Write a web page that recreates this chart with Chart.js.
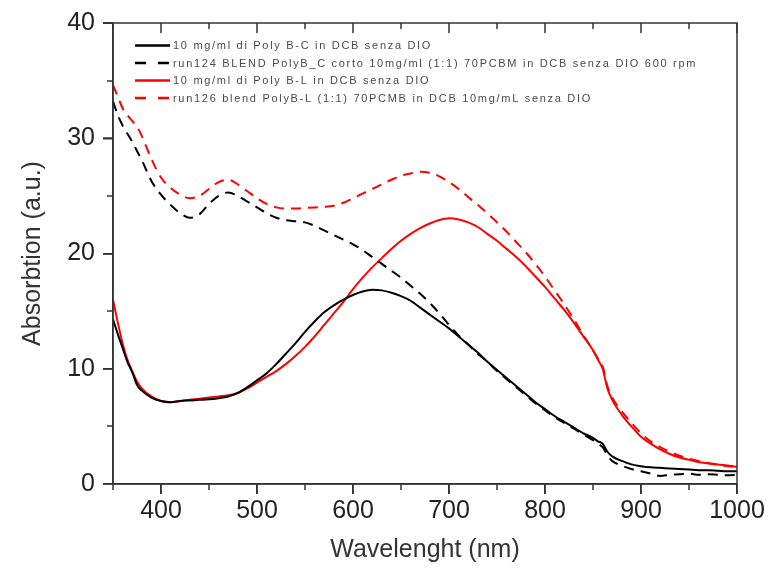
<!DOCTYPE html>
<html>
<head>
<meta charset="utf-8">
<script src="https://cdn.jsdelivr.net/npm/chart.js@4.4.1/dist/chart.umd.min.js"></script>
<style>
  html, body { margin: 0; padding: 0; background: #fff; }
  #c { display: block; }
</style>
</head>
<body>
<canvas id="c" width="769" height="569"></canvas>
<script>
// Wavelength grid (nm)
const wavelength = [350,355,360,365,370,375,380,390,400,410,420,430,440,450,460,470,480,490,500,510,520,530,540,550,560,570,580,590,600,610,620,630,640,650,660,670,680,690,700,710,720,730,740,750,760,770,780,790,800,810,820,830,840,850,855,860,865,870,880,890,900,910,920,930,940,950,960,970,980,990,1000];

// Poly B-C film, 10 mg/ml in DCB without DIO
const polyBC = [14.3,13.0,11.8,10.6,9.7,8.6,8.1,7.5,7.2,7.1,7.2,7.25,7.3,7.35,7.45,7.6,7.9,8.4,9.0,9.6,10.4,11.3,12.2,13.2,14.1,14.9,15.5,16.0,16.4,16.7,16.85,16.8,16.6,16.3,15.9,15.3,14.7,14.1,13.5,12.8,12.1,11.4,10.6,9.9,9.2,8.5,7.8,7.1,6.5,5.9,5.4,4.9,4.4,4.0,3.7,3.5,2.8,2.4,2.0,1.7,1.55,1.45,1.4,1.35,1.3,1.25,1.2,1.2,1.15,1.1,1.1];

// run124: Poly B-C : PCBM blend
const blendBC = [33.2,32.0,31.1,30.4,29.7,28.9,28.1,26.3,25.1,24.2,23.5,23.1,23.4,24.3,25.0,25.3,25.0,24.5,24.0,23.5,23.1,22.9,22.8,22.7,22.4,22.0,21.6,21.2,20.8,20.3,19.7,19.1,18.5,17.9,17.2,16.5,15.7,14.8,13.8,12.9,12.1,11.3,10.6,9.8,9.1,8.4,7.7,7.0,6.4,5.8,5.3,4.8,4.3,3.8,3.5,3.2,2.5,2.0,1.6,1.3,1.1,0.9,0.7,0.8,0.85,0.9,0.8,0.85,0.8,0.75,0.8];

// Poly B-L film, 10 mg/ml in DCB without DIO
const polyBL = [16.0,14.0,12.2,10.8,9.8,8.9,8.3,7.6,7.2,7.1,7.2,7.3,7.4,7.5,7.6,7.7,7.9,8.3,8.8,9.3,9.8,10.4,11.1,11.9,12.8,13.8,14.8,15.8,16.9,17.9,18.8,19.6,20.4,21.1,21.7,22.2,22.6,22.9,23.05,22.95,22.7,22.3,21.7,21.1,20.4,19.7,18.9,18.0,17.1,16.1,15.1,14.0,12.8,11.6,10.8,10.0,8.3,7.3,6.0,5.0,4.1,3.5,3.0,2.6,2.3,2.1,1.9,1.8,1.7,1.6,1.5];

// run126: Poly B-L : PCBM blend
const blendBL = [34.6,33.6,32.6,32.0,31.5,31.0,30.2,28.2,26.6,25.7,25.1,24.8,25.0,25.6,26.2,26.4,26.0,25.4,24.8,24.3,24.0,23.9,23.9,23.95,24.0,24.05,24.15,24.4,24.8,25.2,25.6,26.0,26.4,26.75,26.95,27.1,27.0,26.7,26.2,25.6,24.9,24.2,23.5,22.7,21.9,21.0,20.1,19.1,18.0,16.8,15.6,14.3,12.9,11.6,10.9,10.2,8.5,7.5,6.3,5.3,4.4,3.7,3.2,2.8,2.45,2.2,2.0,1.8,1.65,1.55,1.45];

const seriesLabels = [
  '10 mg/ml di Poly B-C in DCB senza DIO',
  'run124 BLEND PolyB_C corto 10mg/ml (1:1) 70PCBM in DCB senza DIO 600 rpm',
  '10 mg/ml di Poly B-L in DCB senza DIO',
  'run126 blend PolyB-L (1:1) 70PCMB in DCB 10mg/mL senza DIO'
];

// Axis ticks
const xMajorTicks = [400,500,600,700,800,900,1000];
const xMinorTicks = [350,450,550,650,750,850,950];
const yMajorTicks = [0,10,20,30,40];
const yMinorTicks = [5,15,25,35];

const FONT = 'Arial, "Liberation Sans", sans-serif';
const AXIS_COLOR = '#333333';
const DASH = [10, 7];

function toPoints(ys) {
  return wavelength.map((x, i) => ({ x: x, y: ys[i] }));
}

function tickSegments(chart) {
  const a = chart.chartArea;
  const sx = chart.scales['x'];
  const sy = chart.scales['y'];
  const segs = [];
  const major = 10, minor = 6;
  xMajorTicks.forEach(v => {
    const px = Math.round(sx.getPixelForValue(v));
    segs.push([px, a.bottom, px, a.bottom + major]);
    segs.push([px, a.top, px, a.top + major]);
  });
  xMinorTicks.forEach(v => {
    const px = Math.round(sx.getPixelForValue(v));
    segs.push([px, a.bottom, px, a.bottom + minor]);
    segs.push([px, a.top, px, a.top + minor]);
  });
  yMajorTicks.forEach(v => {
    const py = Math.round(sy.getPixelForValue(v));
    segs.push([a.left - major, py, a.left, py]);
  });
  yMinorTicks.forEach(v => {
    const py = Math.round(sy.getPixelForValue(v));
    segs.push([a.left - minor, py, a.left, py]);
  });
  return segs;
}

// Plot frame with outward ticks (left, bottom) and inward ticks (top)
const framePlugin = {
  id: 'frame',
  afterDatasetsDraw(chart) {
    const ctx = chart.ctx;
    const a = chart.chartArea;
    ctx.save();
    ctx.setLineDash([]);
    ctx.strokeStyle = AXIS_COLOR;
    ctx.lineWidth = 1.5;
    ctx.strokeRect(a.left, a.top, a.right - a.left, a.bottom - a.top);
    ctx.beginPath();
    ctx.moveTo(a.left - 10, a.top);
    ctx.lineTo(a.left, a.top);
    ctx.stroke();
    tickSegments(chart).forEach(s => {
      ctx.beginPath();
      ctx.moveTo(s[0], s[1]);
      ctx.lineTo(s[2], s[3]);
      ctx.stroke();
    });
    ctx.restore();
  }
};

// Legend drawn inside the plot area, top left
const legendPlugin = {
  id: 'insideLegend',
  afterDraw(chart) {
    const { ctx, chartArea: a } = chart;
    ctx.save();
    ctx.font = '11px ' + FONT;
    if ('letterSpacing' in ctx) ctx.letterSpacing = '1.7px';
    ctx.textBaseline = 'middle';
    ctx.textAlign = 'left';
    const x0 = a.left + 22, x1 = a.left + 57, tx = a.left + 60;
    const rowY = [a.top + 22.5, a.top + 40, a.top + 57.5, a.top + 75];
    chart.data.datasets.forEach((ds, i) => {
      const yy = rowY[i];
      ctx.strokeStyle = ds.borderColor;
      ctx.lineWidth = 2.5;
      ctx.setLineDash(ds.borderDash && ds.borderDash.length ? [11, 12] : []);
      ctx.beginPath();
      ctx.moveTo(x0, yy);
      ctx.lineTo(x1, yy);
      ctx.stroke();
      ctx.setLineDash([]);
      ctx.fillStyle = '#4a4a4a';
      ctx.fillText(ds.label, tx, yy + 0.5);
    });
    ctx.restore();
  }
};

new Chart(document.getElementById('c'), {
  type: 'line',
  data: {
    datasets: [
      { label: seriesLabels[0], data: toPoints(polyBC), borderColor: '#000000', borderDash: [] },
      { label: seriesLabels[1], data: toPoints(blendBC), borderColor: '#000000', borderDash: DASH },
      { label: seriesLabels[2], data: toPoints(polyBL), borderColor: '#ff0000', borderDash: [] },
      { label: seriesLabels[3], data: toPoints(blendBL), borderColor: '#ff0000', borderDash: DASH }
    ]
  },
  options: {
    responsive: false,
    animation: false,
    devicePixelRatio: 1,
    layout: { padding: { left: 0, right: 32, top: 22, bottom: 0 } },
    elements: {
      point: { radius: 0 },
      line: { borderWidth: 2, cubicInterpolationMode: 'monotone', fill: false }
    },
    plugins: {
      legend: { display: false },
      tooltip: { enabled: false }
    },
    scales: {
      x: {
        type: 'linear',
        min: 350,
        max: 1000,
        afterBuildTicks: s => { s.ticks = xMajorTicks.map(v => ({ value: v })); },
        afterFit: s => { s.height = 85; },
        grid: { display: true, drawOnChartArea: false, drawTicks: true, tickLength: 10, tickColor: AXIS_COLOR, tickWidth: 1.5, color: AXIS_COLOR, lineWidth: 1.5 },
        border: { display: true, color: AXIS_COLOR, width: 1.5 },
        ticks: {
          color: '#222',
          font: { family: FONT, size: 25 },
          padding: 2,
          maxRotation: 0,
          autoSkip: false,
          callback: v => String(v)
        },
        title: {
          display: true,
          text: 'Wavelenght (nm)',
          color: '#333',
          font: { family: FONT, size: 25 },
          padding: { top: 0, bottom: 4 }
        }
      },
      y: {
        type: 'linear',
        min: 0,
        max: 40,
        afterBuildTicks: s => { s.ticks = yMajorTicks.map(v => ({ value: v })); },
        afterFit: s => { s.width = 113; },
        grid: { display: true, drawOnChartArea: false, drawTicks: true, tickLength: 10, tickColor: AXIS_COLOR, tickWidth: 1.5, color: AXIS_COLOR, lineWidth: 1.5 },
        border: { display: true, color: AXIS_COLOR, width: 1.5 },
        ticks: {
          color: '#222',
          font: { family: FONT, size: 25 },
          padding: 8,
          autoSkip: false,
          callback: v => String(v)
        },
        title: {
          display: true,
          text: 'Absorbtion (a.u.)',
          color: '#333',
          font: { family: FONT, size: 25 },
          padding: { top: 18, bottom: 0 }
        }
      }
    }
  },
  plugins: [framePlugin, legendPlugin]
});
</script>
</body>
</html>
